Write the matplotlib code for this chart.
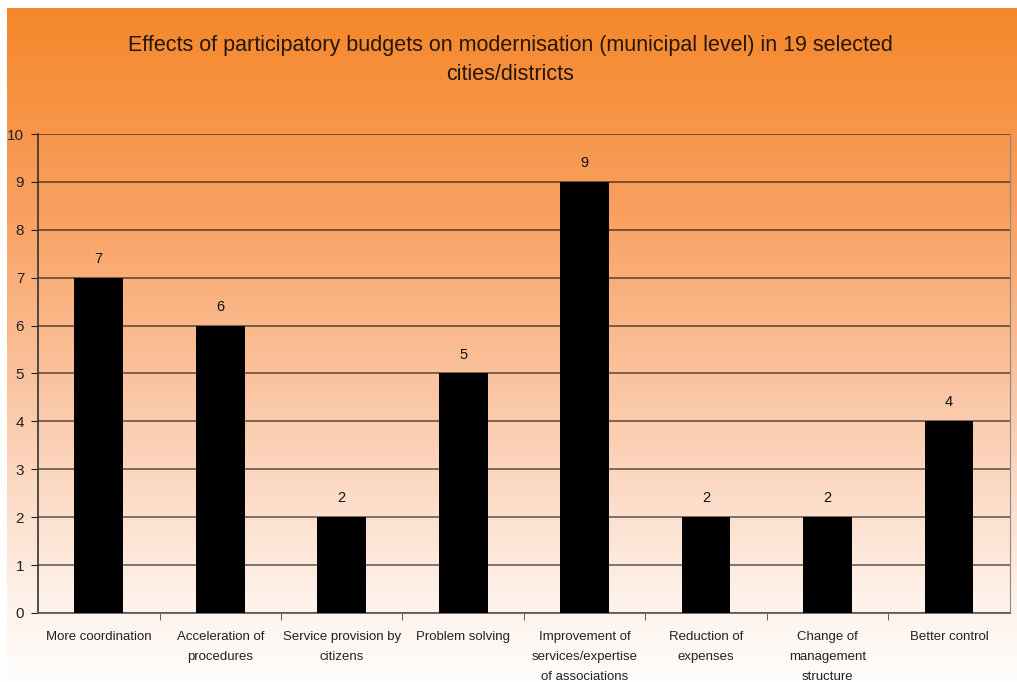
import numpy as np
import matplotlib
matplotlib.use("Agg")
import matplotlib.pyplot as plt
from matplotlib.colors import LinearSegmentedColormap

# data
categories = ["More coordination", "Acceleration of\nprocedures", "Service provision by\ncitizens",
              "Problem solving", "Improvement of\nservices/expertise\nof associations",
              "Reduction of\nexpenses", "Change of\nmanagement\nstructure", "Better control"]
values = [7, 6, 2, 5, 9, 2, 2, 4]
yticks = list(range(0, 11))

plt.rcParams['font.family'] = ['Liberation Sans', 'DejaVu Sans']

fig = plt.figure(figsize=(10.17, 6.82), dpi=100)
fig.patch.set_facecolor('white')

# orange -> white background gradient
bg = fig.add_axes([0.007, 0, 0.993, 0.988], zorder=-5)
grad_cmap = LinearSegmentedColormap.from_list(
    'bg', [(0.0, '#F5872A'), (0.3, '#F9A060'), (0.6, '#FBCAAB'),
           (0.88, '#FEF2EA'), (1.0, '#FFFDFC')])
bg.imshow(np.linspace(0, 1, 256).reshape(-1, 1), aspect='auto', cmap=grad_cmap,
          extent=[0, 1, 1, 0])
bg.axis('off')

ax = fig.add_axes([0.0374, 0.1012, 0.9556, 0.7023])
ax.patch.set_alpha(0)

x = np.arange(len(categories))
ax.bar(x, values, width=0.4, color='black', zorder=3)
for xi, v in zip(x, values):
    ax.text(xi, v + 0.25, str(v), ha='center', va='bottom', fontsize=10.5, color='#111111')

ax.set_xlim(-0.5, len(categories) - 0.5)
ax.set_ylim(0, 10)
ax.set_yticks(yticks)
ax.yaxis.grid(True, color='black', alpha=0.5, linewidth=1.4, zorder=0)
ax.set_axisbelow(True)

ax.set_xticks(x)
ax.set_xticklabels(categories, fontsize=9.5, linespacing=1.9, va='top', color='#222222')
ax.tick_params(axis='x', length=0, pad=13)
ax.set_xticks(np.arange(0.5, len(categories) - 0.5, 1), minor=True)
ax.tick_params(axis='x', which='minor', length=5, direction='out', color='#444444')
ax.tick_params(axis='y', length=5, direction='out', labelsize=11, pad=5, colors='#222222')

ax.spines['top'].set_visible(False)
ax.spines['right'].set_color('#888888')
ax.spines['left'].set_color('#333333')
ax.spines['bottom'].set_color('#555555')
ax.spines['left'].set_linewidth(1.2)
ax.spines['bottom'].set_linewidth(1.2)

fig.text(0.502, 0.912, "Effects of participatory budgets on modernisation (municipal level) in 19 selected\ncities/districts",
         ha='center', va='center', fontsize=15.5, linespacing=1.55, color='#24160c')

fig.savefig('out.png', dpi=100)
